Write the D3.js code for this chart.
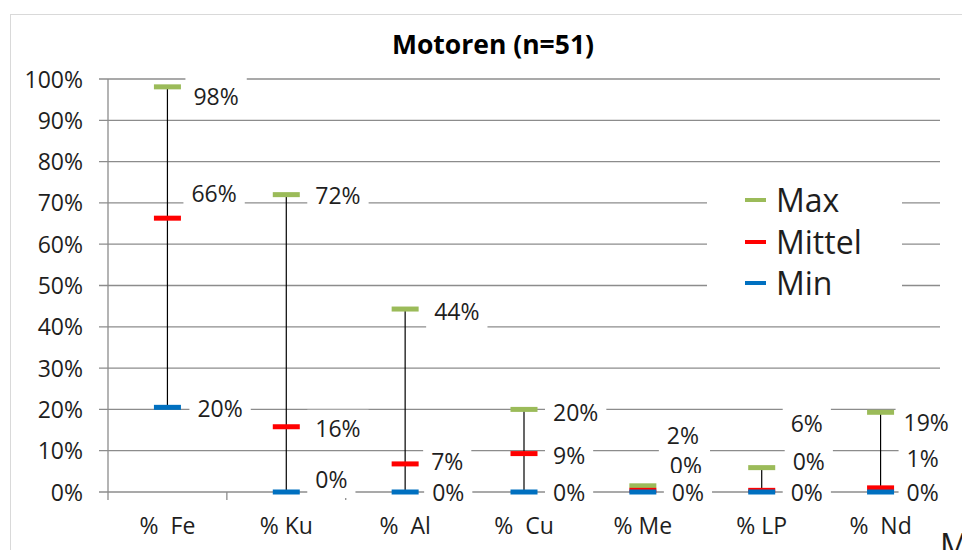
<!DOCTYPE html>
<html>
<head>
<meta charset="utf-8">
<script src="https://cdn.jsdelivr.net/npm/d3@7"></script>
<style>
  html, body { margin: 0; padding: 0; background: #fff; }
  svg { display: block; font-family: "Open Sans", "Noto Sans", sans-serif; }
  text { white-space: pre; }
</style>
</head>
<body>
<svg id="chart" width="962" height="550"></svg>
<script>
// ---------------- data ----------------
const title = "Motoren (n=51)";
const categories = ["%  Fe", "% Ku", "%  Al", "%  Cu", "% Me", "% LP", "%  Nd"];
const maxValues  = [0.981, 0.720, 0.443, 0.200, 0.015, 0.059, 0.193];
const meanValues = [0.663, 0.158, 0.068, 0.093, 0.004, 0.004, 0.010];
const minValues  = [0.205, 0.000, 0.000, 0.000, 0.000, 0.000, 0.000];
const maxLabels  = ["98%", "72%", "44%", "20%", "2%", "6%", "19%"];
const meanLabels = ["66%", "16%", "7%", "9%", "0%", "0%", "1%"];
const minLabels  = ["20%", "0%", "0%", "0%", "0%", "0%", "0%"];
const yTicks = [0, 0.1, 0.2, 0.3, 0.4, 0.5, 0.6, 0.7, 0.8, 0.9, 1.0];
const seriesNames = ["Max", "Mittel", "Min"];

// ---------------- layout / style ----------------
const colors = { Max: "#9BBB59", Mittel: "#FF0000", Min: "#0070C0" };
const textColor = "#1e1e1e";
// label offsets [dx from category centre, dy from marker]
const maxLabelOff  = [[26, 10], [29, 1], [29, 2], [29, 3], [24, -50], [29, -44], [23, 10]];
const meanLabelOff = [[24, -25], [29, 2], [26, -2], [29, 2], [27, -25], [31, -29], [26, -29]];
const minLabelOff  = [[30, 1], [29, -13], [27, 0], [29, 0], [29, 0], [29, 0], [26, 0]];

const svg = d3.select("#chart");
const plot = { left: 108, right: 940, top: 79, bottom: 492 };

const x = d3.scaleBand().domain(categories).range([plot.left, plot.right]).padding(0);
const y = d3.scaleLinear().domain([0, 1]).range([plot.bottom, plot.top]);

// outer chart border
svg.append("rect").attr("x", 10.5).attr("y", 14.5).attr("width", 1000).attr("height", 600)
  .attr("fill", "#fff").attr("stroke", "#d9d9d9").attr("stroke-width", 1);

// title
svg.append("text").attr("x", 493).attr("y", 54).attr("text-anchor", "middle")
  .attr("font-size", 26.5).attr("font-weight", "bold").attr("fill", "#000").text(title);

// gridlines
svg.append("g").selectAll("line").data(yTicks).join("line")
  .attr("x1", plot.left - 9).attr("x2", plot.right)
  .attr("y1", d => y(d)).attr("y2", d => y(d))
  .attr("stroke", "#8c8c8c").attr("stroke-width", 1.3);

// y axis
const yAxis = d3.axisLeft(y).tickValues(yTicks).tickFormat(d3.format(".0%"))
  .tickSize(9).tickPadding(16);
const gy = svg.append("g").attr("transform", `translate(${plot.left},0)`).call(yAxis);
gy.select(".domain").remove();
gy.selectAll(".tick line").remove();
gy.selectAll(".tick text").attr("font-size", 23).attr("fill", textColor)
  .attr("font-family", "'Open Sans', sans-serif").attr("dy", null).attr("y", 8);
svg.append("line").attr("x1", plot.left).attr("x2", plot.left)
  .attr("y1", plot.top).attr("y2", plot.bottom + 8)
  .attr("stroke", "#8c8c8c").attr("stroke-width", 1.3);

// x axis category boundary ticks
const bounds = categories.map(c => x(c) + x.bandwidth());
svg.append("g").selectAll("line").data(bounds).join("line")
  .attr("x1", d => d).attr("x2", d => d)
  .attr("y1", plot.bottom).attr("y2", plot.bottom + 8)
  .attr("stroke", "#8c8c8c").attr("stroke-width", 1.3);

// x axis labels
const xAxis = d3.axisBottom(x).tickSize(0).tickPadding(0);
const gx = svg.append("g").attr("transform", `translate(0,${plot.bottom})`).call(xAxis);
gx.select(".domain").remove();
gx.selectAll(".tick text").attr("font-size", 23).attr("fill", textColor)
  .attr("font-family", "'Open Sans', sans-serif").attr("dy", null).attr("y", 42);

const cx = c => x(c) + x.bandwidth() / 2;

// high-low lines
svg.append("g").selectAll("line").data(categories).join("line")
  .attr("x1", d => cx(d)).attr("x2", d => cx(d))
  .attr("y1", (d, i) => y(maxValues[i])).attr("y2", (d, i) => y(minValues[i]))
  .attr("stroke", "#000").attr("stroke-width", 1.2);

// markers
const mw = 27, mh = 5;
const series = [["Max", maxValues], ["Mittel", meanValues], ["Min", minValues]];
series.forEach(([name, vals]) => {
  svg.append("g").selectAll("rect").data(categories).join("rect")
    .attr("x", d => cx(d) - mw / 2).attr("y", (d, i) => y(vals[i]) - mh / 2)
    .attr("width", mw).attr("height", mh).attr("fill", colors[name]);
});

// data labels with white boxes
function drawLabels(vals, labels, offs) {
  categories.forEach((c, i) => {
    const lx = cx(c) + offs[i][0];
    const ly = y(vals[i]) + offs[i][1];
    const g = svg.append("g");
    const t = g.append("text").attr("x", lx).attr("y", ly + 8.5)
      .attr("font-size", 23).attr("fill", textColor).text(labels[i]);
    const bb = t.node().getBBox();
    g.insert("rect", "text").attr("x", bb.x - 8).attr("y", ly - 19)
      .attr("width", bb.width + 16).attr("height", 38).attr("fill", "#fff");
  });
}
drawLabels(maxValues, maxLabels, maxLabelOff);
drawLabels(meanValues, meanLabels, meanLabelOff);
drawLabels(minValues, minLabels, minLabelOff);

// legend
const lg = svg.append("g");
lg.append("rect").attr("x", 707).attr("y", 176).attr("width", 195).attr("height", 128).attr("fill", "#fff");
const legendY = [200, 242, 283];
seriesNames.forEach((n, i) => {
  lg.append("rect").attr("x", 745).attr("y", legendY[i] - 2).attr("width", 21).attr("height", 4)
    .attr("fill", colors[n]);
  lg.append("text").attr("x", 776).attr("y", legendY[i] + 12).attr("font-size", 32)
    .attr("fill", textColor).text(n);
});

// cut-off text at bottom right
svg.append("text").attr("x", 940).attr("y", 557).attr("font-size", 32).attr("fill", textColor).text("M");
</script>
</body>
</html>
